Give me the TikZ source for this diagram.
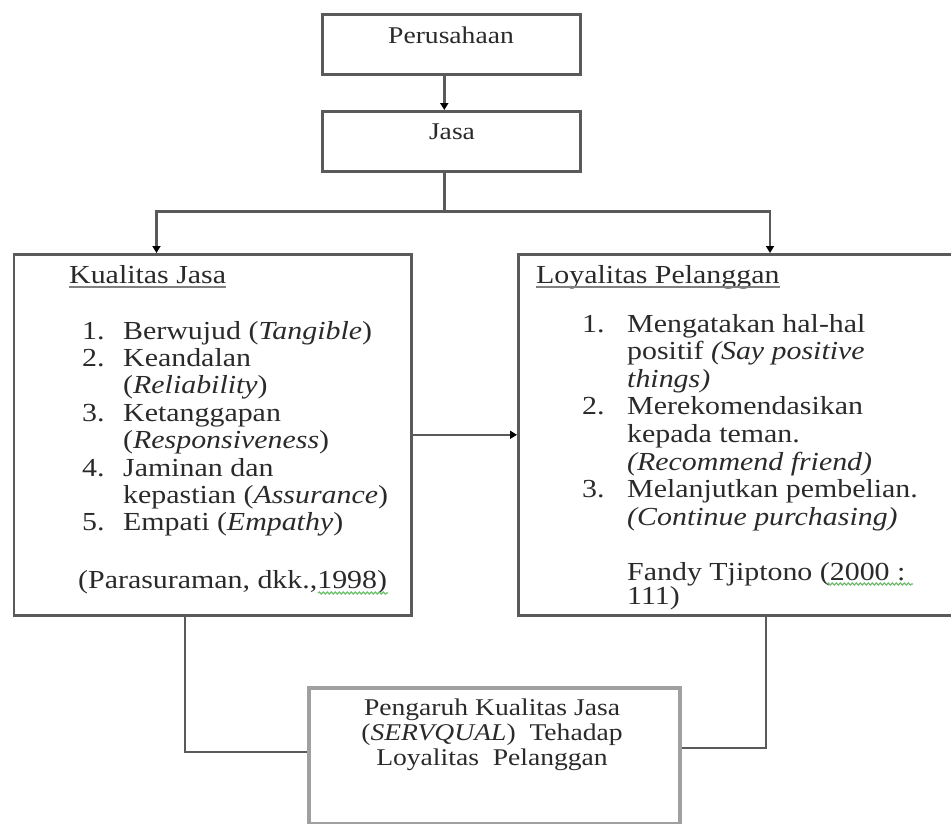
\documentclass[tikz,border=0pt]{standalone}
\usepackage{fontspec}
\setmainfont{Liberation Serif}[FakeStretch=1.15]
\usetikzlibrary{arrows.meta,decorations.pathmorphing}
\definecolor{boxgray}{HTML}{5A5A5A}
\definecolor{lightbox}{HTML}{A0A0A0}
\definecolor{txtcol}{HTML}{2A2A2A}
\definecolor{spell}{HTML}{6DBB6D}
\begin{document}
\begin{tikzpicture}[x=1pt,y=-1pt,
  boxline/.style={draw=boxgray,line width=2.6pt,inner sep=0pt,anchor=north west},
  bottombox/.style={draw=lightbox,line width=3.6pt,inner sep=0pt,anchor=north west},
  conn/.style={draw=boxgray,line width=2.4pt},
  tip/.style={-{Triangle[length=7pt,width=8pt,black]}},
  big/.style={font=\fontsize{26}{28}\selectfont,text=txtcol,inner sep=0pt,anchor=base west},
  mid/.style={font=\fontsize{24}{26}\selectfont,text=txtcol,inner sep=0pt,anchor=base},
  uline/.style={draw=gray,line width=2pt},
  squiggle/.style={draw=spell,line width=1.2pt,decorate,decoration={snake,amplitude=1pt,segment length=4pt}}]
\useasboundingbox (0,0) rectangle (951,823);
\clip (0,0) rectangle (951,823);

% boxes
\node[boxline,minimum width=258pt,minimum height=60pt] (per) at (321,13) {};
\node[boxline,minimum width=258pt,minimum height=60pt] (jasa) at (321,110) {};
\node[boxline,minimum width=397.5pt,minimum height=361pt] (kj) at (12.5,253) {};
\node[boxline,minimum width=440pt,minimum height=361pt] (lp) at (517,253) {};
\node[bottombox,minimum width=371pt,minimum height=136pt] (pk) at (307,686) {};

% top texts
\node[mid] (tper) at (451,43) {Perusahaan};
\node[mid] (tjasa) at (452,139) {Jasa};

% left box text
\node[big] (kh) at (69,283) {Kualitas Jasa};
\draw[uline] ([yshift=-4pt]kh.base west) -- ([yshift=-4pt]kh.base east);
\node[big] (kn1) at (82,339) {1.};
\node[big] (kn2) at (82,366.4) {2.};
\node[big] (kn3) at (82,421.2) {3.};
\node[big] (kn4) at (82,476) {4.};
\node[big] (kn5) at (82,530.8) {5.};
\node[big] (kt1) at (123,339) {Berwujud (\textit{Tangible})};
\node[big] (kt2) at (123,366.4) {Keandalan};
\node[big] (kt3) at (123,393.8) {(\textit{Reliability})};
\node[big] (kt4) at (123,421.2) {Ketanggapan};
\node[big] (kt5) at (123,448.6) {(\textit{Responsiveness})};
\node[big] (kt6) at (123,476) {Jaminan dan};
\node[big] (kt7) at (123,503.4) {kepastian (\textit{Assurance})};
\node[big] (kt8) at (123,530.8) {Empati (\textit{Empathy})};
\node[big] (kref) at (78,588) {(Parasuraman, dkk.,1998)};
\draw[squiggle] (318,593) -- (388,593);

% right box text
\node[big] (lh) at (536,283) {Loyalitas Pelanggan};
\draw[uline] ([yshift=-4pt]lh.base west) -- ([yshift=-4pt]lh.base east);
\node[big] (ln1) at (582,332) {1.};
\node[big] (ln2) at (582,414.8) {2.};
\node[big] (ln3) at (582,497.6) {3.};
\node[big] (lt1) at (627,332) {Mengatakan hal-hal};
\node[big] (lt2) at (627,359.6) {positif \textit{(Say positive}};
\node[big] (lt3) at (627,387.2) {\textit{things)}};
\node[big] (lt4) at (627,414.8) {Merekomendasikan};
\node[big] (lt5) at (627,442.4) {kepada teman.};
\node[big] (lt6) at (627,470) {\textit{(Recommend friend)}};
\node[big] (lt7) at (627,497.6) {Melanjutkan pembelian.};
\node[big] (lt8) at (627,525.2) {\textit{(Continue purchasing)}};
\node[big] (lref1) at (627,580) {Fandy Tjiptono (2000 :};
\node[big] (lref2) at (627,604) {111)};
\draw[squiggle] (827,584) -- (913,584);

% bottom box text
\node[mid] (pk1) at (492,715) {Pengaruh Kualitas Jasa};
\node[mid] (pk2) at (492,740) {(\textit{SERVQUAL})\ \ Tehadap};
\node[mid] (pk3) at (492,765) {Loyalitas\ \ Pelanggan};

% connectors
\draw[conn,tip] ([xshift=-7pt]per.south) -- ([xshift=-7pt]jasa.north);
\draw[conn] ([xshift=-7pt]jasa.south) -- ++(0,39) coordinate (split);
\draw[conn,tip] (split) -| ([xshift=144pt]kj.north west);
\draw[conn,tip] (split) -| ([xshift=253pt]lp.north west);
\draw[conn,tip] (kj.east) -- (kj.east -| lp.west);
\draw[conn] ([xshift=172.5pt]kj.south west) |- ([yshift=4pt]pk.west);
\draw[conn] ([xshift=249pt]lp.south west) |- ([yshift=8pt]pk.east);
\end{tikzpicture}
\end{document}
